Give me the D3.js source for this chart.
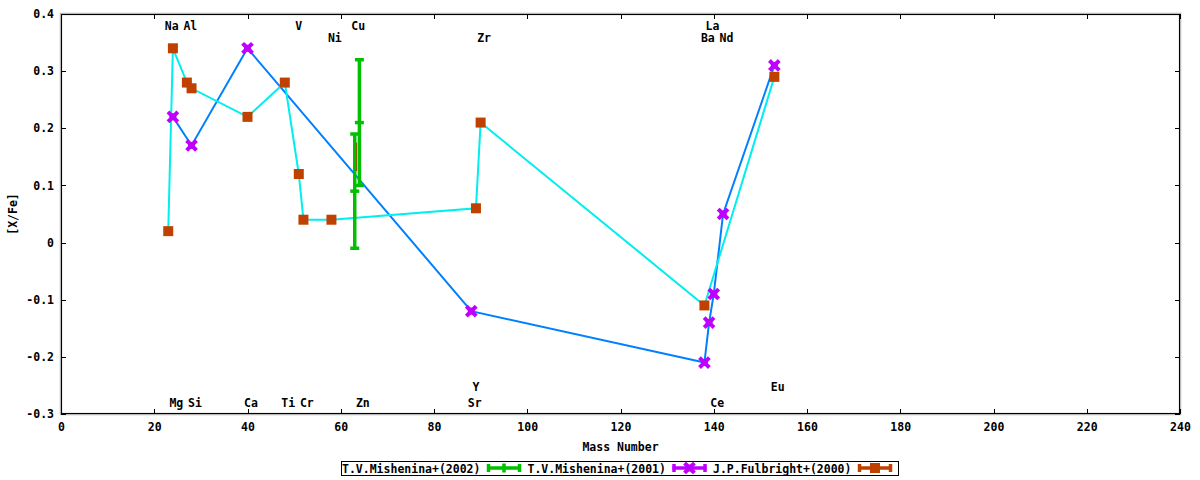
<!DOCTYPE html>
<html>
<head>
<meta charset="utf-8">
<script src="https://cdn.jsdelivr.net/npm/d3@7"></script>
<style>
    html, body { margin: 0; padding: 0; background: #fff; }
    svg text {
        font-family: 'DejaVu Sans Mono', 'Liberation Mono', monospace;
        font-weight: bold;
        font-size: 11.5px;
        fill: #000;
    }
</style>
</head>
<body>
<svg id="chart" width="1200" height="480"></svg>
<script>
'use strict';

// T.V.Mishenina+(2002), with error bars
var mishenina2002Mass = [63, 64];
var mishenina2002Value = [0.09, 0.21];
var mishenina2002Error = [0.10, 0.11];

// T.V.Mishenina+(2001)
var mishenina2001Mass = [24, 28, 40, 88, 138, 139, 140, 142, 153];
var mishenina2001Value = [0.22, 0.17, 0.34, -0.12, -0.21, -0.14, -0.09, 0.05, 0.31];

// J.P.Fulbright+(2000)
var fulbrightMass = [23, 24, 27, 28, 40, 48, 51, 52, 58, 89, 90, 138, 153];
var fulbrightValue = [0.02, 0.34, 0.28, 0.27, 0.22, 0.28, 0.12, 0.04, 0.04, 0.06, 0.21, -0.11, 0.29];

// untitled red bar behind the Cu/Zn bars
var extraMass = [63.3];
var extraValue = [0.15];
var extraError = [0.025];

var seriesNames = ['T.V.Mishenina+(2002)', 'T.V.Mishenina+(2001)', 'J.P.Fulbright+(2000)'];

// element labels, one list per text row
var labelsTop = [['Na', 23], ['Al', 27], ['V', 51], ['Cu', 63], ['La', 139]];
var labelsSecond = [['Ni', 58], ['Zr', 90], ['Ba', 138], ['Nd', 142]];
var labelsLowUpper = [['Y', 89], ['Eu', 153]];
var labelsLowLower = [['Mg', 24], ['Si', 28], ['Ca', 40], ['Ti', 48], ['Cr', 52], ['Zn', 64], ['Sr', 88], ['Ce', 140]];

var xTicks = [0, 20, 40, 60, 80, 100, 120, 140, 160, 180, 200, 220, 240];
var xTickLabels = ['0', '20', '40', '60', '80', '100', '120', '140', '160', '180', '200', '220', '240'];
var yTicks = [-0.3, -0.2, -0.1, 0, 0.1, 0.2, 0.3, 0.4];
var yTickLabels = ['-0.3', '-0.2', '-0.1', '0', '0.1', '0.2', '0.3', '0.4'];

var colors = {
    red: '#ff0000',
    green: '#00c000',
    blue: '#0080ff',
    magenta: '#c000ff',
    cyan: '#00eeee',
    brown: '#c04000'
};

var svg = d3.select('#chart');
var plot = { left: 61, right: 1180, top: 14, bottom: 414 };

var x = d3.scaleLinear().domain([0, 240]).range([plot.left, plot.right]);
var y = d3.scaleLinear().domain([-0.3, 0.4]).range([plot.bottom, plot.top]);

// border
svg.append('rect')
    .attr('x', plot.left)
    .attr('y', plot.top)
    .attr('width', plot.right - plot.left)
    .attr('height', plot.bottom - plot.top)
    .attr('fill', 'none')
    .attr('stroke', '#b8b8b8')
    .attr('stroke-width', 2.5);
svg.append('rect')
    .attr('x', plot.left + 0.5)
    .attr('y', plot.top + 0.5)
    .attr('width', plot.right - plot.left - 1)
    .attr('height', plot.bottom - plot.top - 1)
    .attr('fill', 'none')
    .attr('stroke', '#000')
    .attr('stroke-width', 1);

function noDomain(g) {
    g.select('.domain').remove();
    g.selectAll('line').attr('stroke', '#000').attr('shape-rendering', 'crispEdges');
}

svg.append('g')
    .attr('transform', 'translate(0,' + plot.bottom + ')')
    .call(d3.axisBottom(x).tickValues(xTicks)
        .tickFormat(function (d, i) { return xTickLabels[i]; })
        .tickSizeInner(-5).tickSizeOuter(0).tickPadding(9))
    .call(noDomain);

svg.append('g')
    .attr('transform', 'translate(0,' + plot.top + ')')
    .call(d3.axisTop(x).tickValues(xTicks).tickFormat('')
        .tickSizeInner(-5).tickSizeOuter(0))
    .call(noDomain);

svg.append('g')
    .attr('transform', 'translate(' + plot.left + ',0)')
    .call(d3.axisLeft(y).tickValues(yTicks)
        .tickFormat(function (d, i) { return yTickLabels[i]; })
        .tickSizeInner(-5).tickSizeOuter(0).tickPadding(7))
    .call(noDomain);

svg.append('g')
    .attr('transform', 'translate(' + plot.right + ',0)')
    .call(d3.axisRight(y).tickValues(yTicks).tickFormat('')
        .tickSizeInner(-5).tickSizeOuter(0))
    .call(noDomain);

// axis titles
svg.append('text')
    .attr('x', (plot.left + plot.right) / 2)
    .attr('y', 451)
    .attr('text-anchor', 'middle')
    .text('Mass Number');

svg.append('text')
    .attr('transform', 'translate(17,' + ((plot.top + plot.bottom) / 2) + ') rotate(-90)')
    .attr('text-anchor', 'middle')
    .text('[X/Fe]');

// connecting lines
var line = d3.line()
    .x(function (d) { return x(d[0]); })
    .y(function (d) { return y(d[1]); });

svg.append('path')
    .datum(d3.zip(mishenina2001Mass, mishenina2001Value))
    .attr('d', line)
    .attr('fill', 'none')
    .attr('stroke', colors.blue)
    .attr('stroke-width', 2);

svg.append('path')
    .datum(d3.zip(fulbrightMass, fulbrightValue))
    .attr('d', line)
    .attr('fill', 'none')
    .attr('stroke', colors.cyan)
    .attr('stroke-width', 2);

// red bar
svg.append('g').selectAll('line')
    .data(d3.zip(extraMass, extraValue, extraError))
    .enter()
    .append('line')
    .attr('x1', function (d) { return x(d[0]); })
    .attr('x2', function (d) { return x(d[0]); })
    .attr('y1', function (d) { return y(d[1] - d[2]); })
    .attr('y2', function (d) { return y(d[1] + d[2]); })
    .attr('stroke', colors.red)
    .attr('stroke-width', 2);

// green error bars
var bars = svg.append('g').selectAll('g')
    .data(d3.zip(mishenina2002Mass, mishenina2002Value, mishenina2002Error))
    .enter()
    .append('g')
    .attr('stroke', colors.green)
    .attr('stroke-width', 3.5);

bars.append('line')
    .attr('x1', function (d) { return x(d[0]); })
    .attr('x2', function (d) { return x(d[0]); })
    .attr('y1', function (d) { return y(d[1] - d[2]); })
    .attr('y2', function (d) { return y(d[1] + d[2]); });

[-1, 0, 1].forEach(function (k) {
    bars.append('line')
        .attr('x1', function (d) { return x(d[0]) - 4.5; })
        .attr('x2', function (d) { return x(d[0]) + 4.5; })
        .attr('y1', function (d) { return y(d[1] + k * d[2]); })
        .attr('y2', function (d) { return y(d[1] + k * d[2]); });
});

// markers
function crossMark(sel) {
    sel.append('path')
        .attr('d', 'M-3.5,-3.5L3.5,3.5M-3.5,3.5L3.5,-3.5')
        .attr('stroke', colors.magenta)
        .attr('stroke-width', 4)
        .attr('stroke-linecap', 'square')
        .attr('fill', 'none');
    sel.append('rect')
        .attr('x', -3.5).attr('y', -3.5)
        .attr('width', 7).attr('height', 7)
        .attr('fill', colors.magenta);
}

function squareMark(sel) {
    sel.append('rect')
        .attr('x', -5).attr('y', -5)
        .attr('width', 10).attr('height', 10)
        .attr('fill', colors.brown);
}

svg.append('g').selectAll('g')
    .data(d3.zip(mishenina2001Mass, mishenina2001Value))
    .enter()
    .append('g')
    .attr('transform', function (d) { return 'translate(' + x(d[0]) + ',' + y(d[1]) + ')'; })
    .call(crossMark);

svg.append('g').selectAll('g')
    .data(d3.zip(fulbrightMass, fulbrightValue))
    .enter()
    .append('g')
    .attr('transform', function (d) { return 'translate(' + x(d[0]) + ',' + y(d[1]) + ')'; })
    .call(squareMark);

// element labels
var labelRows = [
    { labels: labelsTop, baseline: 30 },
    { labels: labelsSecond, baseline: 42 },
    { labels: labelsLowUpper, baseline: 391 },
    { labels: labelsLowLower, baseline: 407 }
];

labelRows.forEach(function (row) {
    svg.append('g').selectAll('text')
        .data(row.labels)
        .enter()
        .append('text')
        .attr('x', function (d) { return x(d[1]) - 3.5; })
        .attr('y', row.baseline)
        .text(function (d) { return d[0]; });
});

// legend
var legend = svg.append('g');
legend.append('rect')
    .attr('x', 341.5).attr('y', 461.5)
    .attr('width', 557).attr('height', 14)
    .attr('fill', '#fff')
    .attr('stroke', '#000')
    .attr('stroke-width', 1);

var sampleColors = [colors.green, colors.magenta, colors.brown];

seriesNames.forEach(function (name, i) {
    var tx = 342 + i * 185.5;
    var s0 = tx + 145;
    var s1 = tx + 179;
    var sy = 468;
    var g = legend.append('g');

    g.append('text').attr('x', tx).attr('y', 472.5).text(name);

    var sample = g.append('g').attr('stroke', sampleColors[i]).attr('stroke-width', 3.5);
    sample.append('line').attr('x1', s0).attr('x2', s1).attr('y1', sy).attr('y2', sy);
    sample.append('line').attr('x1', s0 + 1.5).attr('x2', s0 + 1.5).attr('y1', sy - 4).attr('y2', sy + 4);
    sample.append('line').attr('x1', s1 - 1.5).attr('x2', s1 - 1.5).attr('y1', sy - 4).attr('y2', sy + 4);

    var mark = g.append('g').attr('transform', 'translate(' + ((s0 + s1) / 2) + ',' + sy + ')');
    if (i === 0) {
        mark.append('line').attr('x1', 0).attr('x2', 0).attr('y1', -4.5).attr('y2', 4.5)
            .attr('stroke', colors.green).attr('stroke-width', 3.5);
    } else if (i === 1) {
        crossMark(mark);
    } else {
        squareMark(mark);
    }
});
</script>
</body>
</html>
